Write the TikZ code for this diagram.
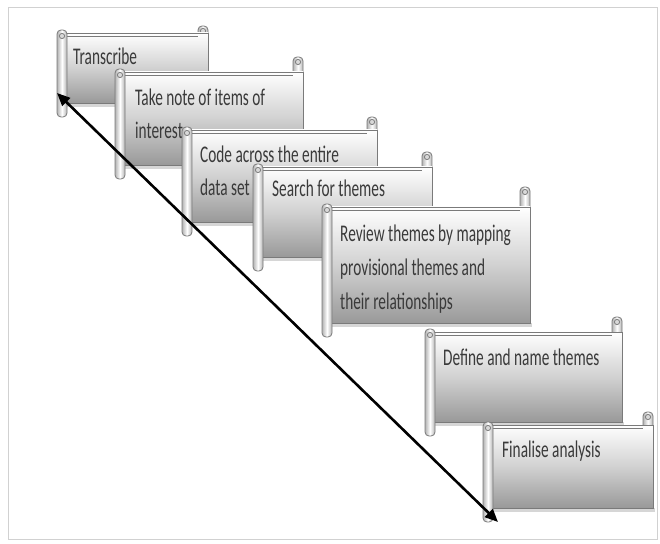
\documentclass[tikz,border=0pt]{standalone}
\usepackage{fontspec}
\setmainfont{Carlito}
\newfontfamily\scrollfont[FakeStretch=0.64]{Carlito}
\usetikzlibrary{arrows.meta}
\definecolor{edgegray}{HTML}{7A7A7A}
\definecolor{txtgray}{HTML}{3A3A3A}
\tikzset{
  scrollbody/.style={draw=edgegray, line width=0.9bp, top color=white, bottom color=black!40, middle color=black!18},
  rollstyle/.style={draw=edgegray, line width=0.8bp, rounded corners=4bp, left color=black!30, right color=black!30, middle color=white},
  curlstyle/.style={draw=edgegray, line width=0.8bp, fill=black!15},
  shadowstyle/.style={fill=black, opacity=0.16},
  scrolltext/.style={anchor=base west, inner sep=0pt, align=left, text=txtgray,
    font=\scrollfont\fontsize{24}{34}\selectfont},
  bigarrow/.style={line width=2.6bp, {Triangle[length=13bp,width=11bp]}-{Triangle[length=13bp,width=11bp]}}
}
% #1 L, #2 T, #3 R, #4 B, #5 curl top
\newcommand\myscroll[5]{%
  \fill[shadowstyle] (#1+8,#4) rectangle (#3+2,#4+4);
  \draw[rollstyle] (#3-10,#5) rectangle (#3,#2+4);
  \draw[curlstyle] (#3-5,#5+5) circle (2.6);
  \draw[scrollbody] (#1+5,#2) rectangle (#3,#4);
  \draw[edgegray, line width=0.6bp] (#1+8,#2+3) -- (#3-10,#2+3);
  \draw[rollstyle] (#1,#2-3) rectangle (#1+10,#4+14);
  \draw[curlstyle] (#1+5,#2+3) circle (2.6);
}
\begin{document}
\begin{tikzpicture}[x=1bp,y=-1bp]
\useasboundingbox (0,0) rectangle (660,544);
\fill[white] (0,0) rectangle (660,544);
\draw[black!18, line width=1bp] (8,8) rectangle (657,539);

\myscroll{57}{33}{208}{103}{26}
\node[scrolltext] (t1) at (73,65) {Transcribe};

\myscroll{115}{72}{303}{165}{57}
\node[scrolltext] (t2) at (135,139) {Take note of items of\\interest};

\myscroll{182}{130}{377}{222}{117}
\node[scrolltext] (t3) at (200,196) {Code across the entire\\data set};

\myscroll{253}{167}{432}{257}{152}
\node[scrolltext] (t4) at (272,197) {Search for themes};

\myscroll{322}{207}{530}{323}{187}
\node[scrolltext] (t5) at (340,309) {Review themes by mapping\\provisional themes and\\their relationships};

\myscroll{425}{332}{622}{422}{317}
\node[scrolltext] (t6) at (443,365) {Define and name themes};

\myscroll{483}{425}{653}{508}{412}
\node[scrolltext] (t7) at (502,457) {Finalise analysis};

\coordinate (arrA) at (57,93);
\coordinate (arrB) at (498,522);
\draw[bigarrow] (arrA) -- (arrB);
\end{tikzpicture}
\end{document}
